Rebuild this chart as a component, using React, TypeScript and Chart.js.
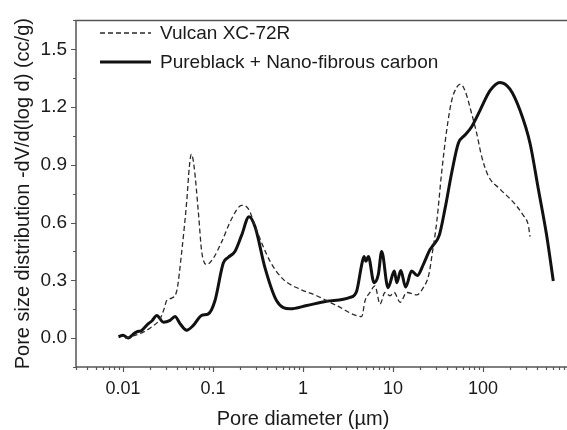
import React, { useEffect, useRef } from 'react';
import { Chart, registerables } from 'chart.js';

Chart.register(...registerables);

// ---- data ----
const seriesNames = ['Vulcan XC-72R', 'Pureblack + Nano-fibrous carbon'];

const vulcanDiameter = [
  0.0105, 0.013, 0.0161, 0.0208, 0.0258, 0.0285, 0.0306, 0.0347, 0.0395, 0.0449,
  0.0509, 0.0548, 0.0575, 0.0615, 0.0687, 0.0748, 0.085, 0.101, 0.125, 0.161,
  0.208, 0.247, 0.305, 0.43, 0.604, 0.926, 1.42, 2.37, 4.49, 4.89,
  5.55, 6.3, 7.17, 8.15, 9.26, 10.3, 12.0, 14.2, 18.3, 21.7,
  25.0, 27.5, 30.6, 34.7, 39.5, 44.9, 51, 56.4, 63.1, 74.8,
  85.1, 96.6, 114.6, 154.5, 217, 280, 319, 333,
];
const vulcanVolume = [
  0.0, 0.012, 0.027, 0.058, 0.1, 0.15, 0.196, 0.208, 0.245, 0.45,
  0.706, 0.9, 0.955, 0.893, 0.654, 0.45, 0.382, 0.416, 0.501, 0.62,
  0.689, 0.671, 0.56, 0.399, 0.305, 0.254, 0.22, 0.169, 0.112, 0.194,
  0.237, 0.271, 0.177, 0.237, 0.22, 0.237, 0.186, 0.237, 0.225, 0.262,
  0.33, 0.45, 0.603, 0.859, 1.08, 1.234, 1.302, 1.319, 1.285, 1.166,
  1.063, 0.944, 0.842, 0.774, 0.706, 0.638, 0.586, 0.527,
];

const pureDiameter = [
  0.0089, 0.01, 0.0114, 0.0128, 0.0142, 0.0161, 0.0191, 0.021, 0.0237, 0.028,
  0.0333, 0.0378, 0.043, 0.0509, 0.0604, 0.0748, 0.0887, 0.105, 0.13, 0.148,
  0.175, 0.208, 0.251, 0.293, 0.378, 0.509, 0.717, 1.1, 1.83, 3.33,
  3.95, 4.49, 4.76, 5.01, 5.32, 6.15, 6.87, 7.48, 8.8, 10.35,
  11.0, 12.2, 13.8, 16.1, 18.6, 21.7, 25.7, 28.1, 32.7, 37.8,
  44.9, 53.2, 63.1, 74.8, 92.7, 119.6, 154.5, 199.5, 257.7, 333,
  412, 509, 604,
];
const pureVolume = [
  0.007, 0.015, 0.0, 0.018, 0.032, 0.04, 0.075, 0.09, 0.118, 0.083,
  0.092, 0.112, 0.075, 0.041, 0.066, 0.118, 0.126, 0.194, 0.39, 0.42,
  0.45, 0.535, 0.63, 0.578, 0.365, 0.194, 0.152, 0.169, 0.191, 0.211,
  0.245, 0.382, 0.424, 0.399, 0.424, 0.288, 0.331, 0.45, 0.262, 0.348,
  0.288, 0.351, 0.265, 0.348, 0.325, 0.382, 0.459, 0.484, 0.535, 0.671,
  0.859, 1.012, 1.055, 1.098, 1.183, 1.285, 1.328, 1.293, 1.183, 1.012,
  0.774, 0.535, 0.297,
];

const xMajorTicks = [0.01, 0.1, 1, 10, 100];
const xTickLabels = ['0.01', '0.1', '1', '10', '100'];
const yTickValues = [0, 0.3, 0.6, 0.9, 1.2, 1.5];
const yMinorTicks = [-0.15, 0.15, 0.45, 0.75, 1.05, 1.35, 1.65];
const xAxisTitle = 'Pore diameter (\u00b5m)';
const yAxisTitle = 'Pore size distribution -dV/d(log d) (cc/g)';

const X_MIN = 0.003;
const X_MAX = 858;
const Y_MIN = -0.15;
const Y_MAX = 1.65;

const FONT = '"Liberation Sans", Arial, Helvetica, sans-serif';
const TEXT = '#1a1a1a';
const AXIS = '#555';

function allLogTicks(): number[] {
  const out: number[] = [];
  for (let e = -3; e <= 2; e++) {
    for (let m = 1; m <= 9; m++) {
      const v = parseFloat((m * Math.pow(10, e)).toPrecision(6));
      if (v >= X_MIN && v <= X_MAX) out.push(v);
    }
  }
  return out;
}

const decorPlugin = {
  id: 'decor',
  afterDraw(chart: any) {
    const { ctx, chartArea } = chart;
    const { left, right, top, bottom } = chartArea;
    const xs = chart.scales.x;
    const ys = chart.scales.y;
    ctx.save();
    ctx.strokeStyle = AXIS;
    ctx.lineWidth = 1.5;
    ctx.setLineDash([]);
    ctx.beginPath();
    ctx.moveTo(right + 2, top);
    ctx.lineTo(left, top);
    ctx.lineTo(left, bottom);
    ctx.lineTo(right + 2, bottom);
    ctx.stroke();

    ctx.lineWidth = 1.2;
    ctx.beginPath();
    for (const v of allLogTicks()) {
      const px = Math.round(xs.getPixelForValue(v)) + 0.5;
      const major = xMajorTicks.some((t) => Math.abs(t - v) / t < 1e-6);
      ctx.moveTo(px, bottom);
      ctx.lineTo(px, bottom + (major ? 5 : 3));
    }
    for (const v of yTickValues) {
      const py = Math.round(ys.getPixelForValue(v)) + 0.5;
      ctx.moveTo(left, py);
      ctx.lineTo(left - 5, py);
    }
    for (const v of yMinorTicks) {
      const py = Math.round(ys.getPixelForValue(v)) + 0.5;
      ctx.moveTo(left, py);
      ctx.lineTo(left - 3, py);
    }
    ctx.stroke();

    // legend
    const ds = chart.data.datasets;
    const rows = [33, 62];
    ds.forEach((d: any, i: number) => {
      const y = rows[i];
      ctx.strokeStyle = d.borderColor;
      ctx.lineWidth = d.borderWidth;
      ctx.setLineDash(d.borderDash || []);
      ctx.beginPath();
      ctx.moveTo(left + 24, y);
      ctx.lineTo(left + 75, y);
      ctx.stroke();
      ctx.setLineDash([]);
      ctx.fillStyle = TEXT;
      ctx.font = `19px ${FONT}`;
      ctx.textAlign = 'left';
      ctx.textBaseline = 'middle';
      ctx.fillText(d.label, left + 84, y + 1);
    });

    // x axis title
    ctx.fillStyle = TEXT;
    ctx.font = `20px ${FONT}`;
    ctx.textAlign = 'center';
    ctx.textBaseline = 'middle';
    ctx.fillText(xAxisTitle, xs.getPixelForValue(1), 419);
    ctx.restore();
  },
};

export default function App() {
  const ref = useRef<HTMLCanvasElement | null>(null);

  useEffect(() => {
    if (!ref.current) return;
    const vulcan = vulcanDiameter.map((d, i) => ({ x: d, y: vulcanVolume[i] }));
    const pure = pureDiameter.map((d, i) => ({ x: d, y: pureVolume[i] }));
    const chart = new Chart(ref.current, {
      type: 'line',
      data: {
        datasets: [
          {
            label: seriesNames[0],
            data: vulcan,
            borderColor: '#2a2a2a',
            borderWidth: 1.3,
            borderDash: [5, 3],
            pointRadius: 0,
            fill: false,
            cubicInterpolationMode: 'monotone',
          },
          {
            label: seriesNames[1],
            data: pure,
            borderColor: '#111',
            borderWidth: 3,
            pointRadius: 0,
            fill: false,
            cubicInterpolationMode: 'monotone',
          },
        ],
      },
      options: {
        animation: false,
        responsive: false,
        devicePixelRatio: 1,
        layout: { padding: { top: 16, right: 0, left: 0, bottom: 0 } },
        plugins: {
          legend: { display: false },
          tooltip: { enabled: false },
        },
        scales: {
          x: {
            type: 'logarithmic',
            min: X_MIN,
            max: X_MAX,
            grid: { display: false, drawTicks: false, tickLength: 0 },
            border: { display: false },
            afterBuildTicks: (scale: any) => {
              scale.ticks = xMajorTicks.map((v) => ({ value: v }));
            },
            afterFit: (scale: any) => {
              scale.height = 63;
            },
            ticks: {
              autoSkip: false,
              maxRotation: 0,
              padding: 11,
              color: TEXT,
              font: { family: FONT, size: 18 },
              callback: (value: any) => {
                const idx = xMajorTicks.findIndex((t) => Math.abs(t - Number(value)) / t < 1e-6);
                return idx >= 0 ? xTickLabels[idx] : '';
              },
            },
          },
          y: {
            type: 'linear',
            min: Y_MIN,
            max: Y_MAX,
            grid: { display: false, drawTicks: false, tickLength: 0 },
            border: { display: false },
            afterBuildTicks: (scale: any) => {
              scale.ticks = yTickValues.map((v) => ({ value: v }));
            },
            afterFit: (scale: any) => {
              scale.width = 76;
            },
            ticks: {
              padding: 9,
              color: TEXT,
              font: { family: FONT, size: 19 },
              callback: (value: any) => Number(value).toFixed(1),
            },
            title: {
              display: true,
              text: yAxisTitle,
              color: TEXT,
              font: { family: FONT, size: 20, weight: 'normal' },
              padding: { top: 11, bottom: 0 },
            },
          },
        },
      },
      plugins: [decorPlugin],
    } as any);
    return () => chart.destroy();
  }, []);

  return (
    <div style={{ position: 'absolute', left: 0, top: 0, width: 567, height: 430, background: '#fff' }}>
      <canvas ref={ref} width={567} height={430} style={{ display: 'block', width: 567, height: 430 }} />
    </div>
  );
}
